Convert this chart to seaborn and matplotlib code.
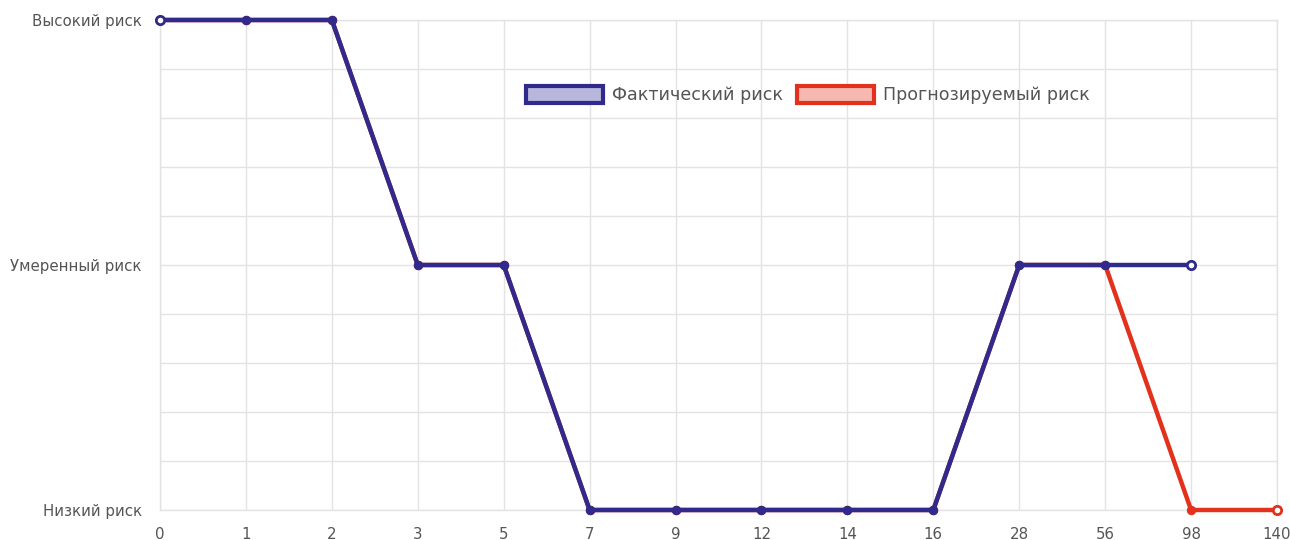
import matplotlib
matplotlib.use("Agg")
import matplotlib.pyplot as plt
import seaborn as sns
import pandas as pd
import numpy as np
from matplotlib.patches import Patch

days = ["0", "1", "2", "3", "5", "7", "9", "12", "14", "16", "28", "56", "98", "140"]
actual = [2, 2, 2, 1, 1, 0, 0, 0, 0, 0, 1, 1, 1]
forecast = [2, 2, 2, 1, 1, 0, 0, 0, 0, 0, 1, 1, 0, 0]
level_labels = ["Низкий риск", "Умеренный риск", "Высокий риск"]

sns.set_style("white")
plt.rcParams['font.family'] = ['DejaVu Sans']

blue = "#2f2a8c"
red = "#e2311d"
grid = "#e3e3e3"

fig = plt.figure(figsize=(12.9, 5.4), dpi=100)
ax = fig.add_axes([160/1290, 1-510/540, (1277-160)/1290, (510-20)/540])

df_f = pd.DataFrame({"x": np.arange(len(forecast)), "y": forecast})
df_a = pd.DataFrame({"x": np.arange(len(actual)), "y": actual})

sns.lineplot(data=df_f, x="x", y="y", ax=ax, color=red, linewidth=3.2,
             marker="o", markersize=6, markeredgecolor=red, zorder=3)
sns.lineplot(data=df_a, x="x", y="y", ax=ax, color=blue, linewidth=3.2,
             marker="o", markersize=6, markeredgecolor=blue, zorder=4)
# hollow end markers
ax.plot([0], [actual[0]], marker="o", markersize=6, markerfacecolor="white",
        markeredgecolor=blue, markeredgewidth=2, zorder=5, linestyle="none")
ax.plot([len(actual)-1], [actual[-1]], marker="o", markersize=6, markerfacecolor="white",
        markeredgecolor=blue, markeredgewidth=2, zorder=5, linestyle="none")
ax.plot([len(forecast)-1], [forecast[-1]], marker="o", markersize=6, markerfacecolor="white",
        markeredgecolor=red, markeredgewidth=2, zorder=5, linestyle="none")
for ln in ax.get_lines():
    ln.set_clip_on(False)

ax.set_xlim(0, len(days)-1)
ax.set_ylim(0, 2)
ax.set_xticks(np.arange(len(days)))
ax.set_xticklabels(days)
yt = np.round(np.arange(0, 2.01, 0.2), 2)
ax.set_yticks(yt)
ax.set_yticklabels([level_labels[int(v)] if abs(v - round(v)) < 1e-6 else "" for v in yt])
ax.grid(True, color=grid, linewidth=1)
ax.set_axisbelow(True)
for s in ax.spines.values():
    s.set_color(grid)
    s.set_linewidth(1)
ax.tick_params(axis="y", colors="#d8d8d8", length=9, width=1, labelcolor="#555555",
               labelsize=10.8, pad=4)
ax.tick_params(axis="x", length=0, pad=12, labelcolor="#555555", labelsize=10.8)
ax.set_xlabel("")
ax.set_ylabel("")

handles = [Patch(facecolor="#b9b6dc", edgecolor=blue, linewidth=3, label="Фактический риск"),
           Patch(facecolor="#f6b9b2", edgecolor=red, linewidth=3, label="Прогнозируемый риск")]
leg = ax.legend(handles=handles, loc="center", bbox_to_anchor=(0.58, 0.847), ncol=2,
                frameon=False, fontsize=12.6, handlelength=4.4, handleheight=1.2,
                columnspacing=0.8, handletextpad=0.5)
for t in leg.get_texts():
    t.set_color("#555555")

fig.savefig("out.png", dpi=100)
